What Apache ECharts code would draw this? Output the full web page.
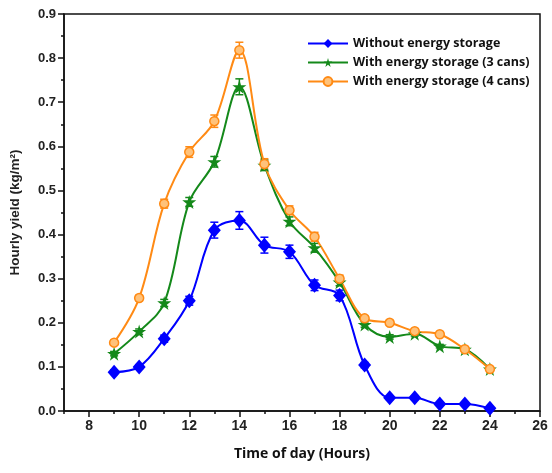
<!DOCTYPE html>
<html>
<head>
<meta charset="utf-8">
<script src="https://cdn.jsdelivr.net/npm/echarts@6/dist/echarts.min.js"></script>
<style>html,body{margin:0;padding:0;background:#fff}#c{width:552px;height:473px}</style>
</head>
<body>
<div id="c"></div>
<script>
var hours = [9,10,11,12,13,14,15,16,17,18,19,20,21,22,23,24];
var noStorage = [0.088,0.100,0.164,0.250,0.410,0.432,0.376,0.361,0.285,0.262,0.104,0.030,0.030,0.016,0.016,0.006];
var noStorageErr = [0.005,0.005,0.008,0.010,0.018,0.020,0.018,0.015,0.012,0.012,0.006,0.004,0.004,0.003,0.003,0.002];
var cans3 = [0.130,0.180,0.245,0.474,0.565,0.735,0.557,0.430,0.370,0.292,0.196,0.168,0.175,0.147,0.140,0.095];
var cans3Err = [0.005,0.006,0.008,0.010,0.012,0.018,0.012,0.010,0.010,0.008,0.006,0.005,0.005,0.004,0.004,0.003];
var cans4 = [0.155,0.256,0.470,0.587,0.657,0.818,0.560,0.455,0.395,0.300,0.210,0.200,0.181,0.174,0.140,0.095];
var cans4Err = [0.005,0.006,0.010,0.012,0.014,0.018,0.012,0.010,0.010,0.008,0.006,0.005,0.005,0.004,0.004,0.003];
var names = ['Without energy storage','With energy storage (3 cans)','With energy storage (4 cans)'];
var xMajor = [8,10,12,14,16,18,20,22,24,26];

var colors = ['#0000FF','#14891A','#FF8A14'];

function pts(v){ return hours.map(function(h,i){ return [h, v[i]]; }); }
function errPts(v,e){ return hours.map(function(h,i){ return [h, v[i], e[i]]; }); }

function errSeries(v,e,color){
  return {
    type:'custom', silent:true, z:3,
    xAxisIndex:0, yAxisIndex:0,
    data: errPts(v,e),
    renderItem: function(params, api){
      var x = api.value(0), y = api.value(1), d = api.value(2);
      var top = api.coord([x, y + d]);
      var bot = api.coord([x, y - d]);
      var w = 4;
      var st = {stroke: color, lineWidth: 1.5};
      return {type:'group', children:[
        {type:'line', shape:{x1:top[0], y1:top[1], x2:bot[0], y2:bot[1]}, style:st},
        {type:'line', shape:{x1:top[0]-w, y1:top[1], x2:top[0]+w, y2:top[1]}, style:st},
        {type:'line', shape:{x1:bot[0]-w, y1:bot[1], x2:bot[0]+w, y2:bot[1]}, style:st}
      ]};
    }
  };
}

var chart = echarts.init(document.getElementById('c'));
chart.setOption({
  animation:false,
  backgroundColor:'#fff',
  grid:{left:64, right:12, top:14, bottom:62, show:true, borderColor:'#111', borderWidth:1.5, backgroundColor:'transparent'},
  legend:{
    left:302, top:32, orient:'vertical', itemGap:6, itemWidth:40, itemHeight:11,
    data:names,
    textStyle:{fontFamily:'Open Sans', fontWeight:'bold', fontSize:12.5, color:'#111'}
  },
  xAxis:[{
    type:'value', min:7, max:26, position:'bottom',
    axisLine:{show:true, onZero:false, lineStyle:{color:'#111', width:1.5}},
    axisTick:{show:true, customValues:xMajor, length:6, lineStyle:{color:'#111', width:1.5}},
    axisLabel:{customValues:xMajor, margin:8, fontFamily:'Liberation Sans', fontWeight:'bold', fontSize:14, color:'#222'},
    splitLine:{show:false},
    name:'Time of day (Hours)', nameLocation:'middle', nameGap:36,
    nameTextStyle:{fontFamily:'Open Sans', fontWeight:'bold', fontSize:14, color:'#111'}
  },{
    type:'value', min:7, max:26, interval:1, position:'bottom',
    axisLine:{show:false, onZero:false},
    axisTick:{show:true, length:3, lineStyle:{color:'#111', width:1.5}},
    axisLabel:{show:false}, splitLine:{show:false}
  }],
  yAxis:{
    type:'value', min:0, max:0.9, interval:0.1,
    axisLine:{show:true, lineStyle:{color:'#111', width:1.5}},
    axisTick:{show:true, length:6, lineStyle:{color:'#111', width:1.5}},
    minorTick:{show:true, splitNumber:2, length:3, lineStyle:{color:'#111', width:1.5}},
    axisLabel:{margin:8, formatter:function(v){return v.toFixed(1);}, fontFamily:'Liberation Sans', fontWeight:'bold', fontSize:13, color:'#222'},
    splitLine:{show:false},
    name:'Hourly yield (kg/m²)', nameLocation:'middle', nameGap:42,
    nameTextStyle:{fontFamily:'Liberation Sans', fontWeight:'bold', fontSize:13.5, color:'#222'}
  },
  series:[
    {name:names[0], type:'line', smooth:0.35, data:pts(noStorage), z:5,
     symbol:'diamond', symbolSize:[13,15], itemStyle:{color:colors[0]}, lineStyle:{width:2, color:colors[0]}},
    {name:names[1], type:'line', smooth:0.35, data:pts(cans3), z:5,
     symbol:'path://M50,0 L61,35 L98,35 L68,57 L79,91 L50,70 L21,91 L32,57 L2,35 L39,35 Z', symbolSize:14, itemStyle:{color:colors[1]}, lineStyle:{width:2, color:colors[1]}},
    {name:names[2], type:'line', smooth:0.35, data:pts(cans4), z:5,
     symbol:'circle', symbolSize:9, itemStyle:{color:'#FFC27A', borderColor:colors[2], borderWidth:1.5}, lineStyle:{width:2, color:colors[2]}},
    errSeries(noStorage, noStorageErr, colors[0]),
    errSeries(cans3, cans3Err, colors[1]),
    errSeries(cans4, cans4Err, colors[2])
  ]
});
</script>
</body>
</html>
